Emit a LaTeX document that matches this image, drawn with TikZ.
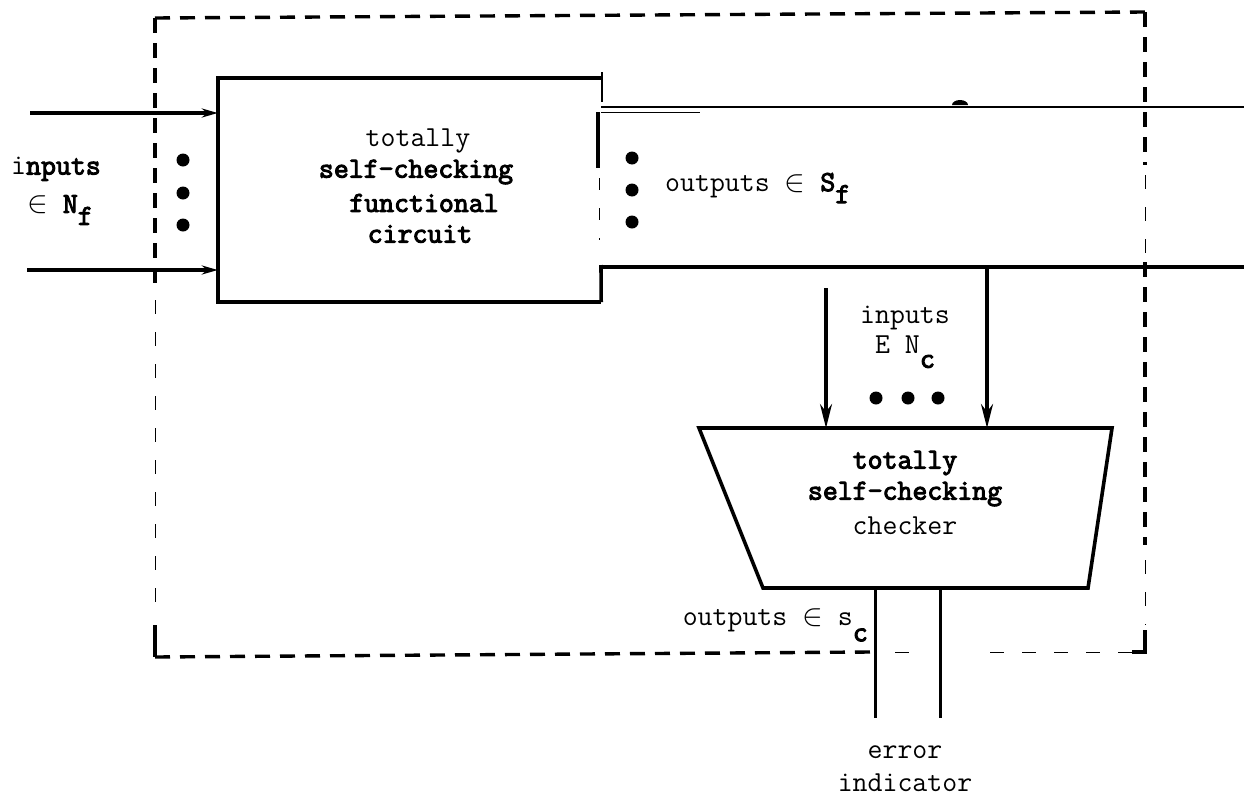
\documentclass[tikz,border=0pt]{standalone}
\usepackage{fontspec}
\setmonofont{Latin Modern Mono}[BoldFont={Latin Modern Mono}, BoldFeatures={FakeBold=3.5}]
\usetikzlibrary{arrows.meta}
\newcommand{\elem}{\scalebox{1.25}{$\in$}}
\begin{document}
\begin{tikzpicture}[x=1pt,y=-1pt,
  lbl/.style={font=\ttfamily\fontsize{29}{33}\selectfont, inner sep=0pt, align=center},
  heavy/.style={line width=3.6pt},
  bus/.style={line width=3.2pt},
  thinbus/.style={line width=1.6pt},
  fence/.style={line width=3.4pt, dash pattern=on 15pt off 10pt},
  fencethin/.style={line width=1pt, dash pattern=on 14pt off 18pt},
  tip/.style={-{Stealth[length=16pt,width=9pt]}},
  bigtip/.style={-{Stealth[length=24pt,width=12pt]}},
  dot/.style={circle, fill, inner sep=0pt, minimum size=13pt}]
\useasboundingbox (0,0) rectangle (1244,798);

% ---------- boundary of the self-checking network ----------
\draw[fence] (155,18) -- (1145,12);
\draw[fence] (155,18) -- (155,285);
\draw[fencethin] (155,300) -- (155,620);
\draw[heavy] (155,625) -- (155,657);
\draw[fence] (155,657) -- (870,652);
\draw[fencethin] (895,652) -- (915,652);
\draw[fencethin] (990,652) -- (1140,652);
\draw[heavy] (1145,630) -- (1145,652) -- (1132,652);
\draw[fence] (1145,12) -- (1145,165);
\draw[fencethin] (1145,175) -- (1145,255);
\draw[fence] (1145,262) -- (1145,545);
\draw[fencethin] (1145,560) -- (1145,625);

% ---------- functional circuit ----------
\node[minimum width=383pt, minimum height=224pt, inner sep=0pt] (fc) at (409.5,190) {};
\draw[heavy] (fc.north east) -- (fc.north west) -- (fc.south west) -- (fc.south east);
\draw[line width=1.2pt] (602,72) -- (602,102);
\draw[heavy] (fc.south east) -- (601,265);
\draw[heavy] (598,112) -- (598,168);
\draw[line width=1pt, dash pattern=on 12pt off 18pt] (599,178) -- (599,240);

\node[lbl] (t1) at (418,141) {totally};
\node[lbl] (t2) at (416,172) {\textbf{self-checking}};
\node[lbl] (t3) at (424,203) {\textbf{functional}};
\node[lbl] (t4) at (420,234) {\textbf{circuit}};

% inputs of the functional circuit
\coordinate (inA) at (30,113);
\coordinate (inB) at (27,270);
\draw[line width=3.2pt, tip] (inA) -- (inA -| fc.west);
\draw[line width=3.2pt, tip] (inB) -- (inB -| fc.west);
\node[dot] (ld1) at (183,160) {};
\node[dot] (ld2) at (183,193) {};
\node[dot] (ld3) at (183,225) {};
\node[lbl] (inl1) at (56,169) {i\textbf{nputs}};
\node[lbl] (inl2) at (60,210) {\elem{} \textbf{N}\raisebox{-12pt}{\textbf{f}}};

% output bus
\coordinate (busA) at (601,107);
\coordinate (busB) at (601,267);
\draw[thinbus] (busA) -- (1244,107);
\draw[line width=0.8pt] (601,112) -- (700,112);
\draw[bus] (busB) -- (1244,267);
\fill (952,105) arc[start angle=180, end angle=0, x radius=8pt, y radius=5pt] -- cycle;
\node[dot] (rd1) at (632,158) {};
\node[dot] (rd2) at (632,190) {};
\node[dot] (rd3) at (632,222) {};
\node[lbl, anchor=west] (outl) at (665,188) {outputs \elem{} \textbf{S}\raisebox{-12pt}{\textbf{f}}};

% ---------- checker ----------
\coordinate (ckTL) at (699,428);
\coordinate (ckTR) at (1112,428);
\coordinate (ckBR) at (1088,588);
\coordinate (ckBL) at (763,588);
\draw[heavy, line join=miter] (ckTL) -- (ckTR) -- (ckBR) -- (ckBL) -- cycle;
\node[lbl] (c1) at (905,463) {\textbf{totally}};
\node[lbl] (c2) at (905,494) {\textbf{self-checking}};
\node[lbl] (c3) at (905,526) {checker};

\coordinate (ckinA) at (826,288);
\coordinate (ckinB) at (987,267);
\draw[line width=3.2pt, bigtip] (ckinA) -- (ckinA |- ckTL);
\draw[line width=3.2pt, bigtip] (ckinB) -- (ckinB |- ckTL);
\node[lbl] (ci1) at (905,318) {inputs};
\node[lbl] (ci2) at (905,352) {E N\raisebox{-14pt}{\textbf{c}}};
\node[dot] (cd1) at (876,398) {};
\node[dot] (cd2) at (908,398) {};
\node[dot] (cd3) at (938,398) {};

% checker outputs
\coordinate (ckoA) at (875,718);
\coordinate (ckoB) at (940,718);
\draw[line width=3pt] (ckoA |- ckBL) -- (ckoA);
\draw[line width=3pt] (ckoB |- ckBL) -- (ckoB);
\node[lbl, anchor=east] (co) at (868,625) {outputs \elem{} s\raisebox{-16pt}{\textbf{c}}};
\node[lbl] (e1) at (905,752) {error};
\node[lbl] (e2) at (905,783) {indicator};
\end{tikzpicture}
\end{document}
